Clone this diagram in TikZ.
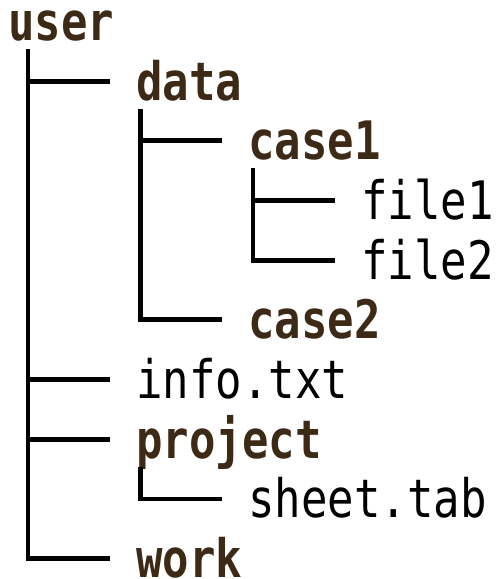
\documentclass[tikz,border=0pt]{standalone}
\usepackage{fontspec}
\setmonofont[FakeStretch=0.83]{DejaVu Sans Mono}
\definecolor{dirbrown}{RGB}{60,42,22}
\tikzset{
  entry/.style={anchor=west, inner xsep=13pt, inner ysep=0pt,
    text height=19pt, text depth=0.5pt,
    font=\ttfamily\fontsize{26.5pt}{30pt}\selectfont},
  folder/.style={entry, text=dirbrown,
    font=\ttfamily\bfseries\fontsize{26.5pt}{30pt}\selectfont},
  branch/.style={line width=2.25pt}
}

\begin{document}
\begin{tikzpicture}[x=0.5pt,y=-0.5pt]
\useasboundingbox (0,0) rectangle (496,579);
% entries, one row each
\node[folder] (user) at (-18,22) {user};
\node[folder] (data) at (110,81.5) {data};
\node[folder] (case1) at (222,140.5) {case1};
\node[entry] (file1) at (335,200.5) {file1};
\node[entry] (file2) at (335,260.5) {file2};
\node[folder] (case2) at (222,319.5) {case2};
\node[entry] (info) at (110,379.5) {info.txt};
\node[folder] (project) at (110,439.5) {project};
\node[entry] (sheet) at (222,499) {sheet.tab};
\node[folder] (work) at (110,558.5) {work};
% stems below the folders
\coordinate (s-user) at (28,49);
\coordinate (s-data) at (140.5,109);
\coordinate (s-case1) at (253,168);
\coordinate (s-project) at (140.5,467);
% branches
\draw[branch] (s-user) |- (data.west);
\draw[branch] (s-user) |- (info.west);
\draw[branch] (s-user) |- (project.west);
\draw[branch] (s-user) |- (work.west);
\draw[branch] (s-data) |- (case1.west);
\draw[branch] (s-data) |- (case2.west);
\draw[branch] (s-case1) |- (file1.west);
\draw[branch] (s-case1) |- (file2.west);
\draw[branch] (s-project) |- (sheet.west);
\end{tikzpicture}
\end{document}
